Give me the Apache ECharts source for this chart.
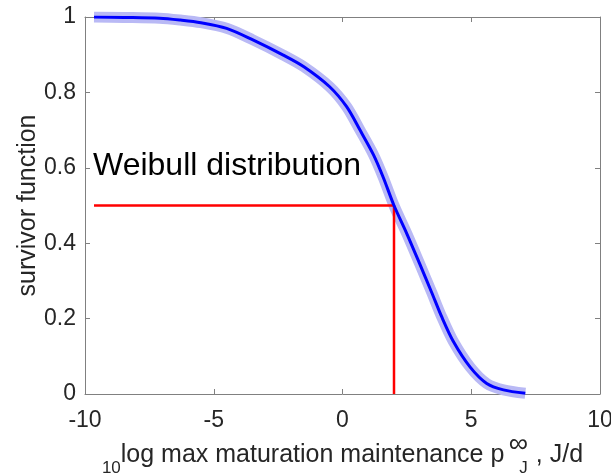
<!DOCTYPE html>
<html>
<head>
<meta charset="utf-8">
<script src="https://cdn.jsdelivr.net/npm/echarts@6/dist/echarts.min.js"></script>
<style>
  html, body { margin: 0; padding: 0; background: #fff; }
  #chart { width: 611px; height: 476px; }
</style>
</head>
<body>
<div id="chart"></div>
<script>
// survivor function
const curveX = [-9.65, -8.5, -7.1, -6.3, -5.5, -4.5, -3.5, -2.3, -1.5, -0.5, 0.16, 0.68, 1.2, 1.58, 2.0, 2.5, 3.0, 3.46, 3.85, 4.3, 4.95, 5.6, 6.25, 7.1];
const curveY = [1.0, 0.999, 0.997, 0.992, 0.985, 0.97, 0.94, 0.899, 0.868, 0.815, 0.762, 0.7, 0.635, 0.575, 0.5, 0.425, 0.345, 0.27, 0.205, 0.14, 0.072, 0.028, 0.011, 0.002];

// median marker (red lines)
const medianX = [-9.65, 2.0, 2.0];
const medianY = [0.5, 0.5, 0];

const xTicks = [-10, 10, 5];   // min, max, step
const yTicks = [0, 1, 0.2];

const font = 'Liberation Sans, Arial, sans-serif';
const axisGray = '#808080';
const textColor = '#262626';

const chart = echarts.init(document.getElementById('chart'));

const pairs = (xs, ys) => xs.map((x, i) => [x, ys[i]]);

function xAxisOf(pos, showLabel) {
  return {
    type: 'value',
    position: pos,
    min: xTicks[0], max: xTicks[1], interval: xTicks[2],
    axisLine: { show: true, onZero: false, lineStyle: { color: axisGray, width: 1 } },
    axisTick: { show: true, inside: true, length: 5, lineStyle: { color: axisGray } },
    axisLabel: { show: showLabel, color: textColor, fontSize: 23, fontFamily: font, margin: 15 },
    splitLine: { show: false }
  };
}
function yAxisOf(pos, showLabel) {
  return {
    type: 'value',
    position: pos,
    min: yTicks[0], max: yTicks[1], interval: yTicks[2],
    axisLine: { show: true, onZero: false, lineStyle: { color: axisGray, width: 1 } },
    axisTick: { show: true, inside: true, length: 5, lineStyle: { color: axisGray } },
    axisLabel: { show: showLabel, color: textColor, fontSize: 23, fontFamily: font, margin: 9 },
    splitLine: { show: false }
  };
}

const xMain = xAxisOf('bottom', true);
xMain.name = '{sub|10}{main|log max maturation maintenance p}{inf|\u221e}{j|J}{main|, J/d}';
xMain.nameLocation = 'middle';
xMain.nameGap = 37;
xMain.nameMoveOverlap = false;
xMain.nameTextStyle = {
  color: textColor,
  fontFamily: font,
  rich: {
    main: { fontSize: 25, fontFamily: font, color: textColor, lineHeight: 30, padding: [12, 0, 0, 0], verticalAlign: 'top' },
    sub: { fontSize: 17, fontFamily: font, color: textColor, lineHeight: 18, padding: [29, 0, 0, 0], verticalAlign: 'top' },
    inf: { fontSize: 27, fontFamily: font, color: textColor, lineHeight: 18, width: 0, padding: [0, 0, 0, 14], verticalAlign: 'top' },
    j: { fontSize: 17, fontFamily: font, color: textColor, lineHeight: 18, padding: [29, 8, 0, 1], verticalAlign: 'top' }
  }
};

const yMain = yAxisOf('left', true);
yMain.name = 'survivor function';
yMain.nameLocation = 'middle';
yMain.nameGap = 44;
yMain.nameMoveOverlap = false;
yMain.nameTextStyle = { color: textColor, fontSize: 25, fontFamily: font };

chart.setOption({
  animation: false,
  backgroundColor: '#fff',
  grid: { left: 85, right: 11, top: 17, bottom: 82, containLabel: false, outerBoundsMode: 'none' },
  xAxis: [xMain, xAxisOf('top', false)],
  yAxis: [yMain, yAxisOf('right', false)],
  graphic: [{
    type: 'text',
    left: 93,
    top: 150,
    style: { text: 'Weibull distribution', fontSize: 32, fontFamily: font, fill: '#000' }
  }],
  series: [
    {
      name: 'band',
      type: 'line',
      data: pairs(curveX, curveY),
      smooth: 0.3,
      symbol: 'none',
      silent: true,
      lineStyle: { color: '#b9b9f5', width: 11 },
      z: 1
    },
    {
      name: 'median',
      type: 'line',
      data: pairs(medianX, medianY),
      symbol: 'none',
      silent: true,
      lineStyle: { color: '#ff0000', width: 2.5 },
      z: 2
    },
    {
      name: 'survivor',
      type: 'line',
      data: pairs(curveX, curveY),
      smooth: 0.3,
      symbol: 'none',
      lineStyle: { color: '#0000ff', width: 3 },
      z: 3
    }
  ]
});
</script>
</body>
</html>
